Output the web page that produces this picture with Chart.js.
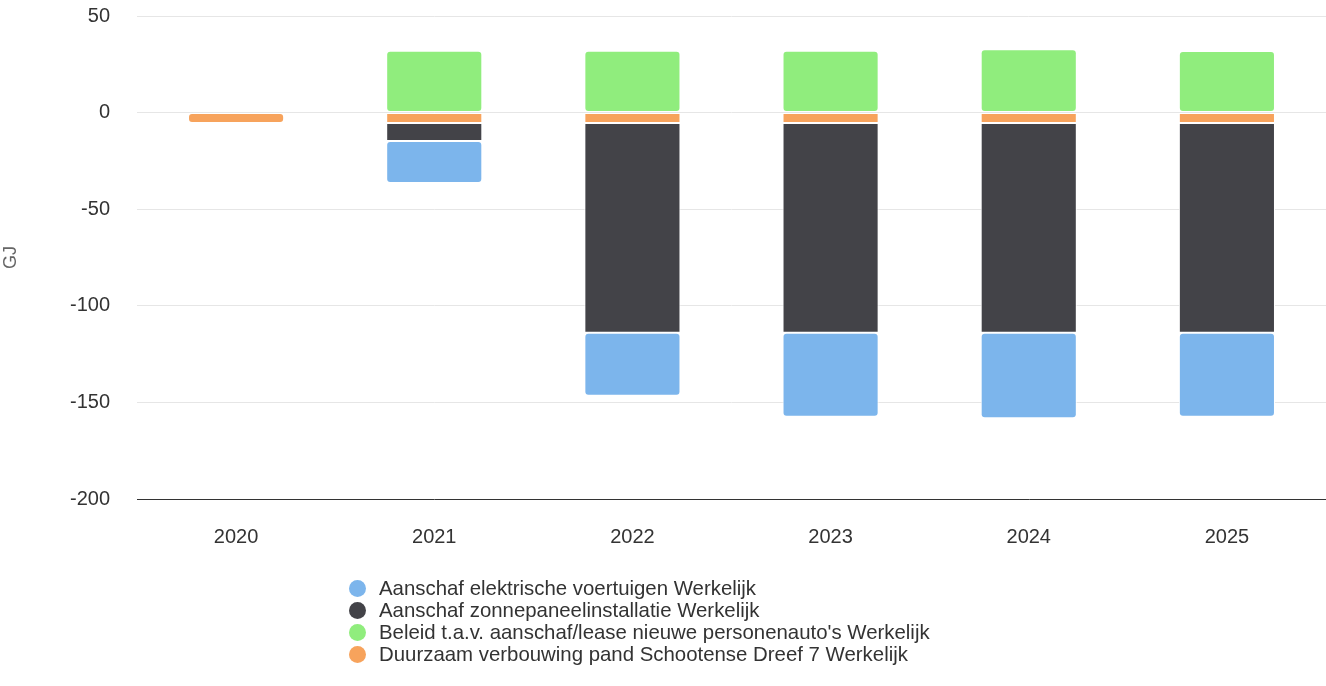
<!DOCTYPE html>
<html>
<head>
<meta charset="utf-8">
<script src="https://cdn.jsdelivr.net/npm/chart.js@4"></script>
<style>
  body { margin: 0; background: #fff; font-family: "Liberation Sans", Arial, sans-serif; }
  #wrap { position: relative; width: 1326px; height: 686px; }
  #legend { position: absolute; left: 349px; top: 577px; margin: 0; padding: 0; list-style: none; }
  #legend li { height: 22px; line-height: 22px; font-size: 20.4px; color: #333; white-space: nowrap; }
  #legend span { display: inline-block; width: 17px; height: 17px; border-radius: 50%; vertical-align: -2px; margin-right: 13px; }
</style>
</head>
<body>
<div id="wrap">
  <canvas id="chart" width="1326" height="686"></canvas>
  <ul id="legend"></ul>
</div>
<script>
const years = ["2020", "2021", "2022", "2023", "2024", "2025"];
const yTicks = [50, 0, -50, -100, -150, -200];

const elektrisch = [null, -21.7, -32.6, -43.4, -44.2, -43.4];
const zonnepanelen = [null, -9.3, -108.6, -108.6, -108.6, -108.6];
const personenautos = [null, 32, 32, 32, 32.8, 31.9];
const verbouwing = [-5.4, -5.4, -5.4, -5.4, -5.4, -5.4];

const series = [
  { label: "Aanschaf elektrische voertuigen Werkelijk", data: elektrisch, color: "#7cb5ec" },
  { label: "Aanschaf zonnepaneelinstallatie Werkelijk", data: zonnepanelen, color: "#434348" },
  { label: "Beleid t.a.v. aanschaf/lease nieuwe personenauto's Werkelijk", data: personenautos, color: "#90ed7d" },
  { label: "Duurzaam verbouwing pand Schootense Dreef 7 Werkelijk", data: verbouwing, color: "#f7a35c" },
];

// stacking: first dataset sits next to zero, so feed them in reverse
const datasets = series.slice().reverse().map((s) => ({
  label: s.label,
  data: s.data,
  backgroundColor: s.color,
  borderColor: "#ffffff",
  borderWidth: 1,
  borderRadius: 4,
  borderSkipped: false,
  barPercentage: 0.97,
  categoryPercentage: 0.5,
}));

const legend = document.getElementById("legend");
series.forEach((s) => {
  const li = document.createElement("li");
  li.innerHTML = `<span style="background:${s.color}"></span>`;
  li.appendChild(document.createTextNode(s.label));
  legend.appendChild(li);
});

const tickFont = { family: "Liberation Sans", size: 20 };

new Chart(document.getElementById("chart"), {
  type: "bar",
  data: { labels: years, datasets: datasets },
  options: {
    responsive: false,
    animation: false,
    layout: { padding: { top: 16, right: 0, bottom: 0, left: 0 } },
    plugins: { legend: { display: false }, tooltip: { enabled: false } },
    scales: {
      x: {
        stacked: true,
        grid: { display: false, drawTicks: false },
        border: { color: "#333333", width: 1 },
        ticks: { color: "#333", font: tickFont, padding: 26 },
        afterFit: (s) => {
          s.height = 686 - 499;
          s.paddingLeft = 0;
          s.paddingRight = 0;
        },
      },
      y: {
        stacked: true,
        min: -200,
        max: 50,
        afterBuildTicks: (s) => { s.ticks = yTicks.map((v) => ({ value: v })); },
        grid: { color: "#e6e6e6", drawTicks: false },
        border: { display: false },
        ticks: { color: "#333", font: tickFont, padding: 27 },
        title: { display: true, text: "GJ", color: "#666", font: { family: "Liberation Sans", size: 18 }, padding: 0 },
        afterFit: (s) => {
          s.width = 137;
          s.paddingTop = 0;
          s.paddingBottom = 0;
        },
      },
    },
  },
});
</script>
</body>
</html>
